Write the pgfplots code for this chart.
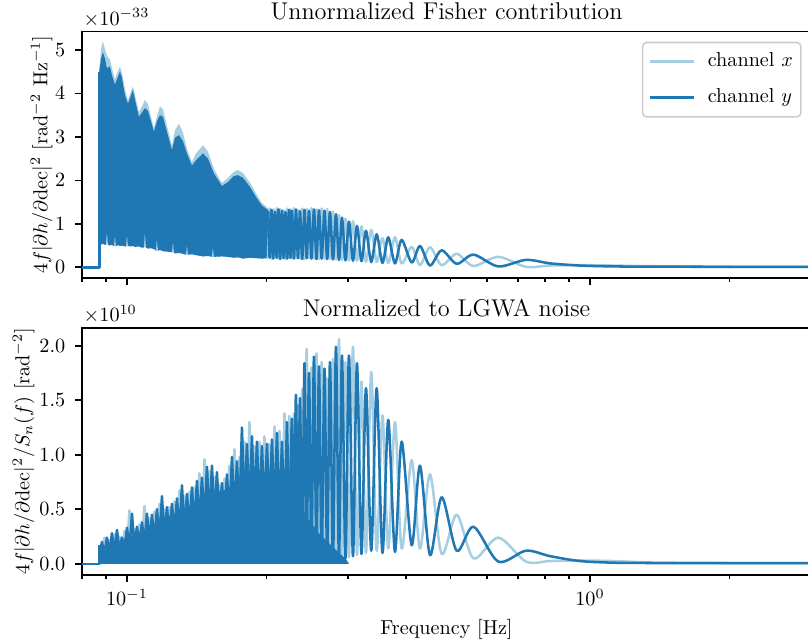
\documentclass[border=0pt]{standalone}
\usepackage{pgfplots}
\pgfplotsset{compat=1.18}
\definecolor{cx}{HTML}{A6CEE3}
\definecolor{cy}{HTML}{1F78B4}
\begin{document}
\begin{tikzpicture}
% ---------------- top panel ----------------
\begin{semilogxaxis}[
  scale only axis, width=360.8pt, height=121.8pt,
  at={(40.64pt,-137.48pt)}, anchor=south west,
  xmin=0.08, xmax=3, enlargelimits=false,
  xtick={0.1,1}, minor xtick={0.08,0.09,0.2,0.3,0.4,0.5,0.6,0.7,0.8,0.9,2,3},
  xtick pos=left, ytick pos=left, tick align=outside,
  major tick length=3.5pt, minor tick length=2pt,
  tick style={black, line width=0.8pt},
  axis line style={line width=0.8pt},
  scaled ticks=false,
  ymin=-0.24, ymax=5.42, ytick={0,1,2,3,4,5}, xticklabels={},
  yticklabel style={xshift=-1.3pt},
  title={Unnormalized Fisher contribution},
  every axis title/.style={at={(axis description cs:0.5,1)}, anchor=base, yshift=5.9pt, font=\large},
  ylabel={$4f|\partial h/\partial \mathrm{dec}|^2$ [rad$^{-2}$ Hz$^{-1}$]},
  ylabel style={at={(axis description cs:-0.0477,0.5)}, anchor=base},
  legend cell align=left,
  legend image code/.code={\draw[#1] (0pt,0pt) -- (22pt,0pt);},
  legend style={at={(axis description cs:1,1)}, anchor=north east, xshift=-4.55pt, yshift=-4.95pt,
    draw=black!20, rounded corners=2pt, line width=0.8pt, fill=white,
    font=\normalsize, inner xsep=3pt, inner ysep=4pt, row sep=6.8pt,
    nodes={inner sep=1pt, text height=7pt, text depth=2pt},
    /tikz/every odd column/.append style={column sep=5pt}},
]
% channel x dense band (upper envelope, then lower envelope back)
\addplot[fill=cx, draw=none, forget plot] coordinates {
(0.08713,4.55)(0.08787,5.00)(0.08831,5.12)(0.08875,5.19)(0.08964,5.02)(0.09053,4.86)(0.09189,4.78)(0.09281,4.58)(0.09421,4.32)(0.09562,4.52)(0.09658,4.62)(0.09754,4.48)(0.09901,4.10)(0.10050,3.84)(0.10201,4.05)(0.10303,4.16)(0.10406,3.96)(0.10615,3.57)(0.10775,3.70)(0.10936,3.85)(0.11101,3.76)(0.11268,3.46)(0.11437,3.20)(0.11609,3.48)(0.11783,3.70)(0.11961,3.64)(0.12201,3.26)(0.12508,2.80)(0.12696,3.15)(0.12951,3.30)(0.13212,3.10)(0.13477,2.72)(0.13816,2.42)(0.14094,2.62)(0.14593,2.81)(0.14961,2.66)(0.15414,2.26)(0.16039,1.94)(0.16525,2.06)(0.17026,2.20)(0.17368,2.24)(0.17805,2.17)(0.18436,1.95)(0.18994,1.70)(0.19570,1.48)(0.20162,1.36)
(0.20162,0.21)(0.19570,0.20)(0.18994,0.21)(0.18436,0.22)(0.17805,0.20)(0.17368,0.23)(0.17026,0.22)(0.16525,0.24)(0.16039,0.25)(0.15414,0.24)(0.15391,0.24)(0.15337,0.50)(0.15283,0.24)(0.14961,0.26)(0.14593,0.25)(0.14094,0.28)(0.13816,0.30)(0.13524,0.29)(0.13477,0.55)(0.13430,0.29)(0.13212,0.31)(0.12951,0.33)(0.12696,0.32)(0.12615,0.34)(0.12571,0.63)(0.12527,0.34)(0.12508,0.35)(0.12201,0.36)(0.11961,0.37)(0.11783,0.40)(0.11650,0.38)(0.11609,0.70)(0.11568,0.38)(0.11437,0.42)(0.11268,0.44)(0.11101,0.43)(0.10974,0.46)(0.10936,0.86)(0.10898,0.46)(0.10775,0.45)(0.10615,0.48)(0.10406,0.47)(0.10303,0.49)(0.10201,0.48)(0.10050,0.49)(0.10035,0.49)(0.10000,0.78)(0.09965,0.48)(0.09901,0.48)(0.09754,0.50)(0.09658,0.49)(0.09562,0.51)(0.09454,0.48)(0.09421,0.78)(0.09388,0.48)(0.09281,0.52)(0.09189,0.50)(0.09085,0.53)(0.09053,0.86)(0.09021,0.53)(0.08964,0.51)(0.08875,0.55)(0.08831,0.52)(0.08787,0.54)(0.08713,0.55)
};
% channel y dense band
\addplot[fill=cy, draw=none, forget plot] coordinates {
(0.08713,4.50)(0.08787,4.78)(0.08831,4.88)(0.08875,4.94)(0.08964,4.80)(0.09053,4.58)(0.09189,4.62)(0.09281,4.42)(0.09421,4.20)(0.09562,4.38)(0.09658,4.50)(0.09754,4.36)(0.09901,3.96)(0.10050,3.76)(0.10201,3.95)(0.10303,4.08)(0.10406,3.86)(0.10615,3.46)(0.10775,3.56)(0.10936,3.66)(0.11101,3.60)(0.11268,3.36)(0.11437,3.12)(0.11609,3.36)(0.11783,3.50)(0.11961,3.46)(0.12201,3.12)(0.12508,2.70)(0.12696,2.98)(0.12951,3.04)(0.13212,2.90)(0.13477,2.62)(0.13816,2.34)(0.14094,2.46)(0.14593,2.62)(0.14961,2.50)(0.15414,2.16)(0.16039,1.87)(0.16525,1.96)(0.17026,2.10)(0.17368,2.12)(0.17805,2.06)(0.18436,1.85)(0.18994,1.62)(0.19570,1.42)(0.20162,1.32)
(0.20162,0.21)(0.19570,0.20)(0.18994,0.21)(0.18436,0.22)(0.17805,0.20)(0.17368,0.23)(0.17026,0.22)(0.16525,0.24)(0.16039,0.25)(0.15414,0.24)(0.15391,0.24)(0.15337,0.50)(0.15283,0.24)(0.14961,0.26)(0.14593,0.25)(0.14094,0.28)(0.13816,0.30)(0.13524,0.29)(0.13477,0.55)(0.13430,0.29)(0.13212,0.31)(0.12951,0.33)(0.12696,0.32)(0.12615,0.34)(0.12571,0.63)(0.12527,0.34)(0.12508,0.35)(0.12201,0.36)(0.11961,0.37)(0.11783,0.40)(0.11650,0.38)(0.11609,0.70)(0.11568,0.38)(0.11437,0.42)(0.11268,0.44)(0.11101,0.43)(0.10974,0.46)(0.10936,0.86)(0.10898,0.46)(0.10775,0.45)(0.10615,0.48)(0.10406,0.47)(0.10303,0.49)(0.10201,0.48)(0.10050,0.49)(0.10035,0.49)(0.10000,0.78)(0.09965,0.48)(0.09901,0.48)(0.09754,0.50)(0.09658,0.49)(0.09562,0.51)(0.09454,0.48)(0.09421,0.78)(0.09388,0.48)(0.09281,0.52)(0.09189,0.50)(0.09085,0.53)(0.09053,0.86)(0.09021,0.53)(0.08964,0.51)(0.08875,0.55)(0.08831,0.52)(0.08787,0.54)(0.08713,0.55)
};
% channel y comb core
\addplot[fill=cy, draw=none, forget plot] coordinates {
(0.20062,1.12)(0.21054,1.12)(0.22183,1.10)(0.23407,1.12)(0.24442,1.10)(0.25662,1.08)(0.26704,1.05)(0.27445,0.95)(0.28276,0.80)(0.29133,0.60)(0.29644,0.40)(0.30165,0.25)
(0.30165,0.20)(0.28276,0.22)(0.26335,0.23)(0.24442,0.24)(0.22719,0.24)(0.20062,0.25)
};
% channel x resolved
\addplot[cx, line width=1.25pt, line join=round, forget plot, smooth] coordinates {
(0.20162,0.21)(0.20334,1.35)(0.20516,0.20)(0.20691,1.33)(0.20877,0.22)(0.21054,1.36)(0.21243,0.20)(0.21424,1.34)(0.21616,0.21)(0.21800,1.31)(0.21996,0.19)(0.22183,1.35)(0.22382,0.21)(0.22550,1.33)(0.22719,0.20)(0.22946,1.36)(0.23175,0.22)(0.23407,1.32)(0.23641,0.20)(0.23901,1.35)(0.24176,0.19)(0.24442,1.34)(0.24723,0.21)(0.25032,1.36)(0.25345,0.20)(0.25662,1.33)(0.25983,0.19)(0.26335,1.35)(0.26704,0.20)(0.27065,1.34)(0.27445,0.19)(0.27857,1.28)(0.28276,0.18)(0.28701,1.20)(0.29133,0.17)(0.29644,1.12)(0.30165,0.16)(0.30771,1.06)(0.31389,0.15)(0.32099,0.94)(0.32826,0.13)(0.33702,0.86)(0.34620,0.12)(0.35633,0.67)(0.36675,0.10)(0.37918,0.69)(0.39203,0.09)(0.41200,0.47)(0.42936,0.05)(0.45127,0.46)(0.47831,0.05)(0.51536,0.31)(0.56028,0.03)(0.63381,0.24)(0.72739,0.01)(0.81963,0.04)(0.95152,0.05)(1.12125,0.04)(1.34761,0.025)(1.72808,0.015)(2.32894,0.01)(3.0,0.01)
};
% channel y step and resolved
\addplot[cy, line width=1.25pt, line join=round, forget plot] coordinates {(0.08,0)(0.08713,0)(0.08713,4.5)};
\addplot[cy, line width=1.25pt, line join=round, forget plot, smooth] coordinates {
(0.20162,1.30)(0.20334,0.22)(0.20516,1.32)(0.20691,0.20)(0.20877,1.28)(0.21054,0.22)(0.21243,1.33)(0.21424,0.19)(0.21616,1.30)(0.21800,0.21)(0.21996,1.27)(0.22183,0.20)(0.22382,1.32)(0.22550,0.22)(0.22719,1.30)(0.22946,0.20)(0.23175,1.33)(0.23407,0.21)(0.23641,1.29)(0.23901,0.19)(0.24176,1.32)(0.24442,0.21)(0.24723,1.30)(0.25032,0.20)(0.25345,1.33)(0.25662,0.19)(0.25983,1.31)(0.26335,0.20)(0.26704,1.30)(0.27065,0.19)(0.27445,1.27)(0.27857,0.18)(0.28276,1.22)(0.28701,0.17)(0.29133,1.14)(0.29644,0.16)(0.30165,1.05)(0.30771,0.15)(0.31389,0.95)(0.32099,0.14)(0.32826,0.84)(0.33702,0.12)(0.34620,0.76)(0.35633,0.10)(0.36675,0.69)(0.37918,0.09)(0.39203,0.63)(0.41200,0.11)(0.42936,0.49)(0.45127,0.04)(0.47831,0.39)(0.51536,0.08)(0.56028,0.29)(0.63381,0.02)(0.72739,0.17)(0.81963,0.09)(0.95152,0.04)(1.12125,0.02)(1.34761,0.015)(1.72808,0.012)(2.32894,0.01)(3.0,0.01)
};
\addlegendimage{cx, line width=1.25pt}
\addlegendentry{channel $x$}
\addlegendimage{cy, line width=1.25pt}
\addlegendentry{channel $y$}
\end{semilogxaxis}
\node[anchor=base west, inner sep=0pt] at (41.24pt,-12.38pt) {$\times10^{-33}$};
% ---------------- bottom panel ----------------
\begin{semilogxaxis}[
  scale only axis, width=360.8pt, height=122.4pt,
  at={(40.64pt,-284.65pt)}, anchor=south west,
  xmin=0.08, xmax=3, enlargelimits=false,
  xtick={0.1,1}, minor xtick={0.08,0.09,0.2,0.3,0.4,0.5,0.6,0.7,0.8,0.9,2,3},
  xtick pos=left, ytick pos=left, tick align=outside,
  major tick length=3.5pt, minor tick length=2pt,
  tick style={black, line width=0.8pt},
  axis line style={line width=0.8pt},
  scaled ticks=false,
  ymin=-0.103, ymax=2.165, ytick={0,0.5,1,1.5,2},
  yticklabel style={xshift=-1.3pt, /pgf/number format/fixed, /pgf/number format/fixed zerofill, /pgf/number format/precision=1},
  title={Normalized to LGWA noise},
  every axis title/.style={at={(axis description cs:0.5,1)}, anchor=base, yshift=5.6pt, font=\large},
  ylabel={$4f|\partial h/\partial \mathrm{dec}|^2/S_n(f)$ [rad$^{-2}$]},
  ylabel style={at={(axis description cs:-0.0724,0.5)}, anchor=base},
  xlabel={Frequency [Hz]},
  xlabel style={at={(axis description cs:0.5,0)}, anchor=base, yshift=-29.7pt},
]
% channel x
\addplot[cx, line width=1.25pt, line join=round, forget plot] coordinates {
(0.08722,0.17)(0.08831,0.09)(0.08942,0.24)(0.09053,0.09)(0.09167,0.22)(0.09281,0.10)(0.09397,0.27)(0.09515,0.11)(0.09634,0.25)(0.09754,0.12)(0.09877,0.30)(0.10000,0.13)(0.10125,0.49)(0.10252,0.15)(0.10380,0.32)(0.10510,0.16)(0.10641,0.36)(0.10775,0.18)(0.10909,0.53)(0.11046,0.19)(0.11184,0.42)(0.11324,0.21)(0.11466,0.48)(0.11609,0.22)(0.11754,0.55)(0.11901,0.24)(0.12050,0.50)(0.12201,0.25)(0.12354,0.52)(0.12508,0.27)(0.12665,0.57)(0.12823,0.28)(0.12984,0.67)(0.13146,0.30)(0.13311,0.62)(0.13477,0.31)(0.13646,0.66)(0.13816,0.33)(0.13989,0.70)(0.14164,0.35)(0.14341,0.83)(0.14521,0.37)(0.14702,0.96)(0.14886,0.39)(0.15073,0.85)(0.15261,0.40)(0.15452,0.80)(0.15645,0.41)(0.15841,0.72)(0.16039,0.41)(0.16240,0.78)(0.16443,0.42)(0.16649,0.90)(0.16857,0.44)(0.17068,1.05)(0.17281,0.46)(0.17498,0.98)(0.17717,0.48)(0.17938,1.12)(0.18163,0.50)(0.18390,1.30)(0.18620,0.50)(0.18853,1.08)(0.19089,0.50)(0.19328,1.12)(0.19570,0.50)(0.19814,1.17)(0.20062,0.49)(0.20313,1.10)(0.20567,0.47)(0.20825,1.26)(0.21085,0.46)(0.21349,1.22)(0.21616,0.42)(0.21886,1.38)(0.22160,0.38)(0.22438,1.36)
};
\addplot[cx, line width=1.25pt, line join=round, forget plot, smooth] coordinates {
(0.22438,1.36)(0.22719,0.25)(0.22946,1.38)(0.23175,0.12)(0.23407,1.45)(0.23641,0.06)(0.23901,1.60)(0.24176,0.05)(0.24442,1.97)(0.24723,0.04)(0.25032,1.80)(0.25345,0.04)(0.25662,1.93)(0.25983,0.03)(0.26335,1.85)(0.26704,0.04)(0.27065,1.70)(0.27445,0.03)(0.27857,1.88)(0.28276,0.04)(0.28701,2.06)(0.29133,0.05)(0.29644,1.85)(0.30165,0.06)(0.30771,1.99)(0.31389,0.08)(0.32099,1.67)(0.32826,0.10)(0.33702,1.76)(0.34620,0.12)(0.35633,1.36)(0.36675,0.14)(0.37918,1.30)(0.39203,0.14)(0.41200,0.95)(0.42936,0.14)(0.45127,0.82)(0.47831,0.09)(0.51536,0.45)(0.56028,0.05)(0.63381,0.24)(0.72739,0.02)(0.81963,0.025)(0.95152,0.03)(1.12125,0.025)(1.34761,0.012)(1.72808,0.008)(2.32894,0.006)(3.0,0.006)
};
% channel y dense core
\addplot[fill=cy, draw=none, forget plot] coordinates {
(0.08713,0)(0.08713,0.13)(0.09053,0.16)(0.09515,0.19)(0.10000,0.24)(0.10510,0.28)(0.11046,0.33)(0.11609,0.38)(0.12201,0.43)(0.12823,0.47)(0.13477,0.52)(0.14164,0.58)(0.14886,0.65)(0.15645,0.66)(0.16443,0.68)(0.17281,0.76)(0.18163,0.84)(0.19089,0.84)(0.20062,0.84)(0.21085,0.86)(0.22160,0.85)(0.22719,0.75)(0.23641,0.55)(0.24723,0.40)(0.25983,0.28)(0.27445,0.18)(0.28701,0.10)(0.29644,0.05)(0.30165,0)
};
% channel y
\addplot[cy, line width=1.25pt, line join=round, forget plot] coordinates {(0.08,0)(0.08713,0)(0.08713,0.17)};
\addplot[cy, line width=1.25pt, line join=round, forget plot] coordinates {
(0.08722,0.08)(0.08831,0.20)(0.08942,0.09)(0.09053,0.24)(0.09167,0.10)(0.09281,0.28)(0.09397,0.11)(0.09515,0.31)(0.09634,0.12)(0.09754,0.24)(0.09877,0.13)(0.10000,0.33)(0.10125,0.14)(0.10252,0.46)(0.10380,0.15)(0.10510,0.34)(0.10641,0.17)(0.10775,0.38)(0.10909,0.18)(0.11046,0.46)(0.11184,0.20)(0.11324,0.45)(0.11466,0.21)(0.11609,0.50)(0.11754,0.23)(0.11901,0.62)(0.12050,0.25)(0.12201,0.52)(0.12354,0.26)(0.12508,0.55)(0.12665,0.27)(0.12823,0.60)(0.12984,0.29)(0.13146,0.72)(0.13311,0.30)(0.13477,0.64)(0.13646,0.32)(0.13816,0.70)(0.13989,0.34)(0.14164,0.76)(0.14341,0.36)(0.14521,0.79)(0.14702,0.38)(0.14886,0.89)(0.15073,0.40)(0.15261,0.90)(0.15452,0.40)(0.15645,0.84)(0.15841,0.41)(0.16039,0.74)(0.16240,0.42)(0.16443,0.82)(0.16649,0.43)(0.16857,0.98)(0.17068,0.45)(0.17281,0.94)(0.17498,0.47)(0.17717,1.25)(0.17938,0.49)(0.18163,1.10)(0.18390,0.50)(0.18620,1.17)(0.18853,0.50)(0.19089,1.12)(0.19328,0.50)(0.19570,1.08)(0.19814,0.49)(0.20062,1.10)(0.20313,0.48)(0.20567,1.14)(0.20825,0.47)(0.21085,1.20)(0.21349,0.44)(0.21616,1.12)(0.21886,0.40)(0.22160,1.30)(0.22438,0.35)
};
\addplot[cy, line width=1.25pt, line join=round, forget plot, smooth] coordinates {
(0.22438,0.35)(0.22719,1.33)(0.22946,0.30)(0.23175,1.55)(0.23407,0.15)(0.23641,1.52)(0.23901,0.06)(0.24176,1.84)(0.24442,0.05)(0.24723,1.75)(0.25032,0.04)(0.25345,1.90)(0.25662,0.04)(0.25983,1.81)(0.26335,0.03)(0.26704,1.79)(0.27065,0.04)(0.27445,1.85)(0.27857,0.03)(0.28276,1.99)(0.28701,0.04)(0.29133,1.91)(0.29644,0.05)(0.30165,1.91)(0.30771,0.07)(0.31389,1.84)(0.32099,0.09)(0.32826,1.61)(0.33702,0.12)(0.34620,1.61)(0.35633,0.10)(0.36675,1.32)(0.37918,0.11)(0.39203,1.12)(0.41200,0.17)(0.42936,0.90)(0.45127,0.08)(0.47831,0.61)(0.51536,0.12)(0.56028,0.34)(0.63381,0.02)(0.72739,0.12)(0.81963,0.07)(0.95152,0.025)(1.12125,0.01)(1.34761,0.007)(1.72808,0.006)(2.32894,0.006)(3.0,0.006)
};
\end{semilogxaxis}
\node[anchor=base west, inner sep=0pt] at (41.24pt,-159.26pt) {$\times10^{10}$};
\pgfresetboundingbox
\path[use as bounding box] (0pt,0pt) rectangle (400pt,-318.8pt);
\end{tikzpicture}
\end{document}
